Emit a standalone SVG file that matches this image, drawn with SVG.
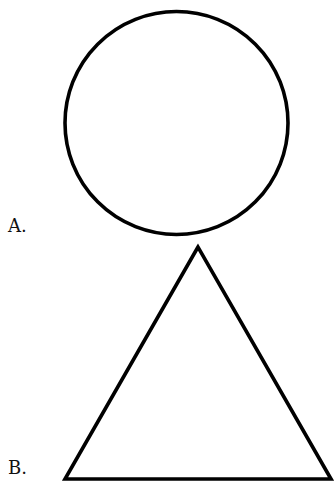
<svg xmlns="http://www.w3.org/2000/svg" width="334" height="483" viewBox="0 0 334 483">
<style>
.shape{fill:none;stroke:#000;stroke-width:3.6;stroke-linejoin:miter}
.lbl{font-family:"DejaVu Serif","Liberation Serif",serif;font-size:18px;fill:#111}
</style>
<rect width="334" height="483" fill="#fff"/>
<g id="circle"><circle class="shape" cx="176.5" cy="123" r="111.5"/></g>
<g id="labelA"><text class="lbl" x="8" y="232">A.</text></g>
<g id="triangle"><polygon class="shape" points="198,247 65,479 331,479"/></g>
<g id="labelB"><text class="lbl" x="8" y="474">B.</text></g>
</svg>
